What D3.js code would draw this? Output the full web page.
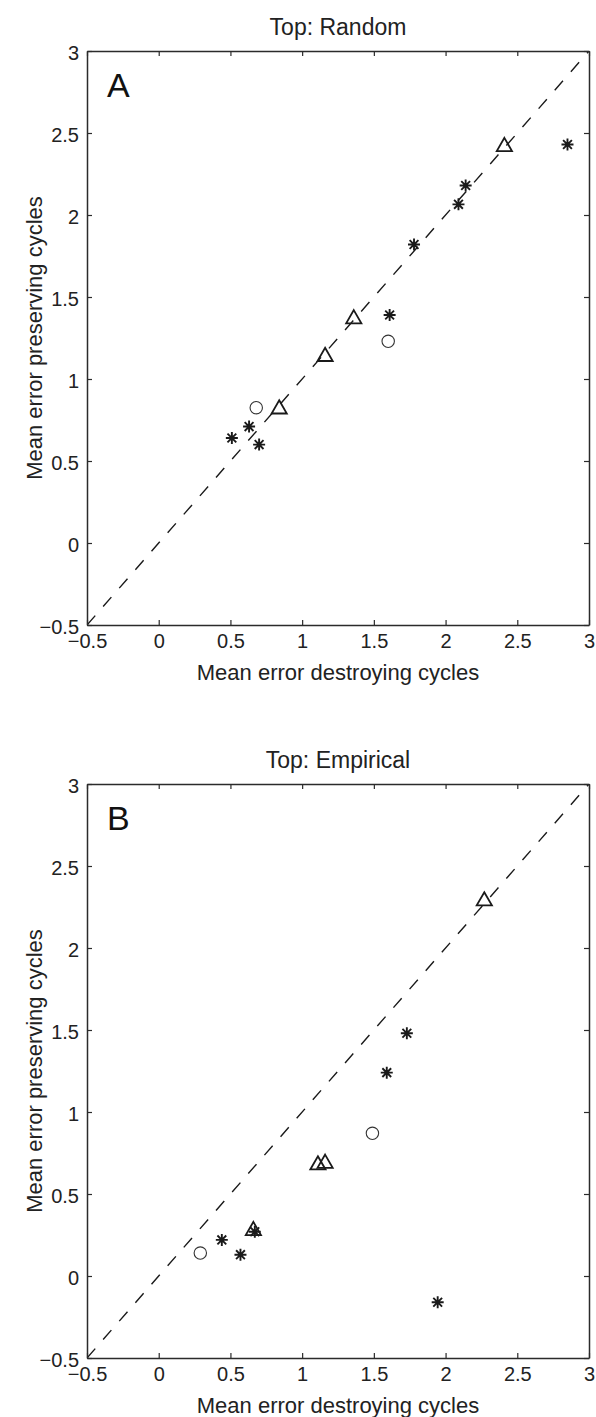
<!DOCTYPE html>
<html>
<head>
<meta charset="utf-8">
<script src="https://cdn.jsdelivr.net/npm/d3@7"></script>
<style>
  html, body { margin: 0; padding: 0; background: #fff; }
  svg { display: block; font-family: "Liberation Sans", Arial, sans-serif; }
</style>
</head>
<body>
<svg id="chart" width="596" height="1417"></svg>
<script>
// Axis ticks shared by both panels
const tickValues = [-0.5, 0, 0.5, 1, 1.5, 2, 2.5, 3];
const tickLabels = ["\u22120.5", "0", "0.5", "1", "1.5", "2", "2.5", "3"];
const axisDomain = [-0.5, 3];

// Panel A: top nodes chosen at random
const randStarX = [0.51, 0.63, 0.70, 1.61, 1.78, 2.09, 2.14, 2.85];
const randStarY = [0.64, 0.71, 0.60, 1.39, 1.82, 2.065, 2.18, 2.43];
const randTriX  = [0.84, 1.16, 1.36, 2.41];
const randTriY  = [0.83, 1.15, 1.38, 2.43];
const randCircX = [0.68, 1.60];
const randCircY = [0.825, 1.23];

// Panel B: empirical top nodes
const empStarX = [0.44, 0.57, 0.67, 1.59, 1.73, 1.945];
const empStarY = [0.22, 0.13, 0.27, 1.24, 1.48, -0.16];
const empTriX  = [0.66, 1.11, 1.16, 2.27];
const empTriY  = [0.29, 0.69, 0.70, 2.30];
const empCircX = [0.29, 1.49];
const empCircY = [0.14, 0.87];

const xTitle = "Mean error destroying cycles";
const yTitle = "Mean error preserving cycles";

const svg = d3.select("#chart");
const ink = "#1a1a1a";
const axisInk = "#2b2b2b";

const left = 87, right = 589, plotH = 574;

function zip(xs, ys) { return xs.map((x, i) => ({ x, y: ys[i] })); }

function drawPanel(top, title, letter, stars, tris, circles, id) {
  const x = d3.scaleLinear().domain(axisDomain).range([left, right]);
  const y = d3.scaleLinear().domain(axisDomain).range([top + plotH, top]);
  const g = svg.append("g");

  g.append("clipPath").attr("id", id)
    .append("rect").attr("x", left).attr("y", top)
    .attr("width", right - left).attr("height", plotH);

  // identity reference line
  g.append("line")
    .attr("clip-path", `url(#${id})`)
    .attr("x1", x(axisDomain[0])).attr("y1", y(axisDomain[0]))
    .attr("x2", x(axisDomain[1])).attr("y2", y(axisDomain[1]))
    .attr("stroke", ink).attr("stroke-width", 1.4)
    .attr("stroke-dasharray", "12.5,12");

  const fmt = (d) => tickLabels[tickValues.indexOf(d)];

  // axes on all four sides, ticks pointing inward
  const bottom = g.append("g").attr("transform", `translate(0,${top + plotH})`)
    .call(d3.axisBottom(x).tickValues(tickValues).tickSizeInner(-5).tickSizeOuter(0).tickFormat(fmt).tickPadding(12));
  const topAx = g.append("g").attr("transform", `translate(0,${top})`)
    .call(d3.axisTop(x).tickValues(tickValues).tickSizeInner(-5).tickSizeOuter(0).tickFormat(""));
  const leftAx = g.append("g").attr("transform", `translate(${left},0)`)
    .call(d3.axisLeft(y).tickValues(tickValues).tickSizeInner(-5).tickSizeOuter(0).tickFormat(fmt).tickPadding(12));
  const rightAx = g.append("g").attr("transform", `translate(${right},0)`)
    .call(d3.axisRight(y).tickValues(tickValues).tickSizeInner(-5).tickSizeOuter(0).tickFormat(""));

  [bottom, topAx, leftAx, rightAx].forEach(a => {
    a.select(".domain").attr("stroke", axisInk).attr("stroke-width", 1.5);
    a.selectAll(".tick line").attr("stroke", axisInk).attr("stroke-width", 1.2);
    a.selectAll(".tick text").attr("fill", "#222").attr("font-size", 20)
      .attr("font-family", "Liberation Sans, Arial, sans-serif");
  });
  leftAx.selectAll(".tick text").attr("dy", "0.42em").attr("x", -8);
  bottom.selectAll(".tick text").attr("dy", "0.71em").attr("y", 9);

  // titles and letters
  g.append("text").attr("x", (left + right) / 2).attr("y", top - 16)
    .attr("text-anchor", "middle").attr("font-size", 23).attr("fill", "#222").text(title);
  g.append("text").attr("x", 107).attr("y", top + 46)
    .attr("font-size", 34).attr("fill", "#111").text(letter);
  g.append("text").attr("x", (left + right) / 2).attr("y", top + plotH + 55)
    .attr("text-anchor", "middle").attr("font-size", 22).attr("fill", "#222").text(xTitle);
  g.append("text")
    .attr("transform", `translate(42,${top + plotH / 2}) rotate(-90)`)
    .attr("text-anchor", "middle").attr("font-size", 22).attr("fill", "#222").text(yTitle);

  // markers
  const marks = g.append("g");
  // asterisks: plus and cross overlaid
  const s = 6, d = 4.4;
  const starPath = `M0,${-s}L0,${s}M${-s},0L${s},0M${-d},${-d}L${d},${d}M${-d},${d}L${d},${-d}`;
  marks.selectAll(".star").data(stars).join("path")
    .attr("class", "star")
    .attr("transform", p => `translate(${x(p.x)},${y(p.y)})`)
    .attr("d", starPath)
    .attr("stroke", ink).attr("stroke-width", 1.9).attr("fill", "none");

  const tw = 7.6, th = 6.6;
  const triPath = `M0,${-th}L${tw},${th}L${-tw},${th}Z`;
  marks.selectAll(".tri").data(tris).join("path")
    .attr("class", "tri")
    .attr("transform", p => `translate(${x(p.x)},${y(p.y)})`)
    .attr("d", triPath)
    .attr("stroke", ink).attr("stroke-width", 1.8).attr("fill", "none")
    .attr("stroke-linejoin", "miter");

  marks.selectAll(".circ").data(circles).join("circle")
    .attr("class", "circ")
    .attr("cx", p => x(p.x)).attr("cy", p => y(p.y)).attr("r", 6.2)
    .attr("stroke", "#333").attr("stroke-width", 1.1).attr("fill", "none");
}

drawPanel(51, "Top: Random", "A",
  zip(randStarX, randStarY), zip(randTriX, randTriY), zip(randCircX, randCircY), "clipA");
drawPanel(784, "Top: Empirical", "B",
  zip(empStarX, empStarY), zip(empTriX, empTriY), zip(empCircX, empCircY), "clipB");
</script>
</body>
</html>
